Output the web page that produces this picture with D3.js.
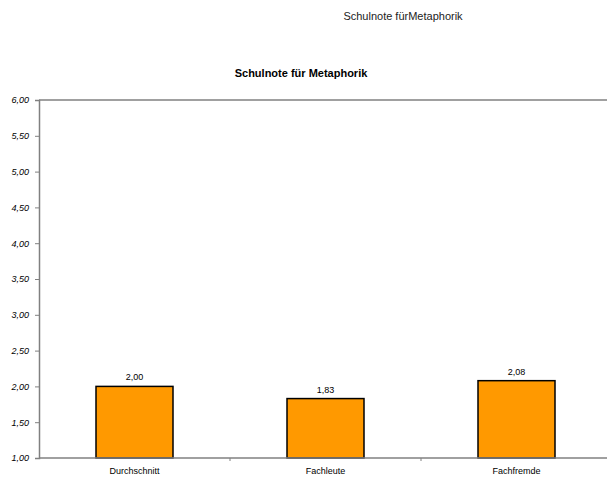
<!DOCTYPE html>
<html>
<head>
<meta charset="utf-8">
<script src="https://cdn.jsdelivr.net/npm/d3@7"></script>
<style>
  body { margin: 0; background: #fff; }
  svg { display: block; font-family: Arial, "Liberation Sans", sans-serif; }
</style>
</head>
<body>
<div id="chart"></div>
<script>
const categories = ["Durchschnitt", "Fachleute", "Fachfremde"];
const values = [2.00, 1.83, 2.08];
const yTicks = [1.0, 1.5, 2.0, 2.5, 3.0, 3.5, 4.0, 4.5, 5.0, 5.5, 6.0];

const W = 607, H = 482;
const fmt = v => d3.format(".2f")(v).replace(".", ",");

const svg = d3.select("#chart").append("svg")
    .attr("width", W)
    .attr("height", H);

const plotLeft = 39, plotRight = 612, plotTop = 100, plotBottom = 458;

const x = d3.scaleBand()
    .domain(categories)
    .range([plotLeft, plotRight]);

const y = d3.scaleLinear()
    .domain([1, 6])
    .range([plotBottom, plotTop]);

const barW = 77;

// header text
svg.append("text")
    .attr("x", 403).attr("y", 20)
    .attr("text-anchor", "middle")
    .attr("font-size", "11px")
    .attr("fill", "#222")
    .text("Schulnote fürMetaphorik");

svg.append("text")
    .attr("x", 301).attr("y", 77)
    .attr("text-anchor", "middle")
    .attr("font-size", "11px")
    .attr("font-weight", "bold")
    .text("Schulnote für Metaphorik");

// top border of plot
svg.append("line")
    .attr("x1", plotLeft).attr("x2", W)
    .attr("y1", plotTop).attr("y2", plotTop)
    .attr("stroke", "#808080")
    .attr("stroke-width", 1.5);

// y axis
const yAxis = svg.append("g")
    .attr("transform", `translate(${plotLeft},0)`)
    .call(d3.axisLeft(y).tickValues(yTicks).tickFormat(fmt).tickSize(4).tickPadding(6));
yAxis.select(".domain").attr("stroke", "#808080").attr("stroke-width", 1.5);
yAxis.selectAll(".tick line").attr("stroke", "#808080");
yAxis.selectAll(".tick text")
    .attr("font-size", "9px")
    .attr("font-style", "italic")
    .attr("font-family", "Arial, 'Liberation Sans', sans-serif")
    .attr("fill", "#000");

// bars
svg.append("g")
    .selectAll("rect")
    .data(values)
    .join("rect")
    .attr("x", (d, i) => x(categories[i]) + x.bandwidth() / 2 - barW / 2)
    .attr("y", d => y(d))
    .attr("width", barW)
    .attr("height", d => y(1) - y(d))
    .attr("fill", "#FF9900")
    .attr("stroke", "#000")
    .attr("stroke-width", 1.5);

// value labels
svg.append("g")
    .selectAll("text")
    .data(values)
    .join("text")
    .attr("x", (d, i) => x(categories[i]) + x.bandwidth() / 2)
    .attr("y", d => y(d) - 6)
    .attr("text-anchor", "middle")
    .attr("font-size", "9px")
    .text(d => fmt(d));

// x axis
const xAxis = svg.append("g")
    .attr("transform", `translate(0,${plotBottom})`)
    .call(d3.axisBottom(x).tickSize(0).tickPadding(10));
xAxis.select(".domain").remove();
xAxis.selectAll(".tick text")
    .attr("font-size", "9px")
    .attr("font-family", "Arial, 'Liberation Sans', sans-serif")
    .attr("fill", "#000");

svg.append("line")
    .attr("x1", plotLeft).attr("x2", W)
    .attr("y1", plotBottom).attr("y2", plotBottom)
    .attr("stroke", "#808080")
    .attr("stroke-width", 1.5);

// separators between categories
svg.append("g")
    .selectAll("line")
    .data(categories.slice(1))
    .join("line")
    .attr("x1", d => x(d)).attr("x2", d => x(d))
    .attr("y1", plotBottom).attr("y2", plotBottom + 3)
    .attr("stroke", "#808080");
</script>
</body>
</html>
